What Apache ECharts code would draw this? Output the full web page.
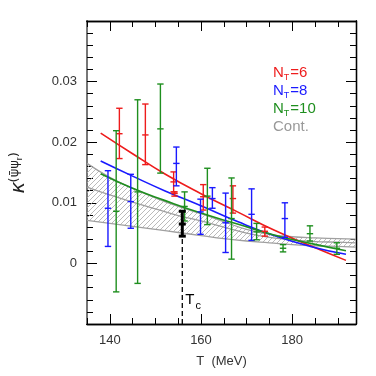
<!DOCTYPE html>
<html>
<head>
<meta charset="utf-8">
<script src="https://cdn.jsdelivr.net/npm/echarts@6/dist/echarts.min.js"></script>
<style>
html, body { margin: 0; padding: 0; background: #fff; }
#chart { width: 376px; height: 376px; }
</style>
</head>
<body>
<div id="chart"></div>
<script>
// axis range and ticks
const xMin = 135, xMax = 194;
const yMin = -0.01, yMax = 0.04;
const xMajorTicks = [140, 160, 180];
const xLabels = [140, 160, 180];
const yMajorTicks = [-0.01, 0, 0.01, 0.02, 0.03, 0.04];
const yLabels = [0, 0.01, 0.02, 0.03];

// N_T = 6 (red)
const n6T   = [142.1, 147.8, 154.0, 154.2, 160.5, 167.0, 174.0];
const n6Hi  = [0.0256, 0.0263, 0.0151, 0.0118, 0.0130, 0.0128, 0.0060];
const n6Mid = [0.0214, 0.0212, 0.01345, 0.01154, 0.0110, 0.0107, 0.0053];
const n6Lo  = [0.0173, 0.0163, 0.0118, 0.0111, 0.0088, 0.0083, 0.0045];

// N_T = 8 (blue)
const n8T   = [139.6, 144.6, 154.6, 159.9, 162.5, 165.4, 171.1, 178.4];
const n8Hi  = [0.0153, 0.0147, 0.0192, 0.0106, 0.0125, 0.0116, 0.0123, 0.0100];
const n8Mid = [0.0091, 0.0102, 0.0165, 0.0085, 0.0107, 0.0067, 0.0081, 0.0074];
const n8Lo  = [0.0028, 0.0058, 0.0128, 0.0048, 0.0091, 0.0018, 0.0038, 0.0043];

// N_T = 10 (green)
const n10T   = [141.4, 146.1, 151.1, 156.4, 161.4, 166.7, 172.2, 178.0, 183.9, 189.8];
const n10Hi  = [0.0219, 0.0270, 0.0296, 0.0118, 0.0157, 0.0141, 0.0066, 0.0031, 0.0062, 0.0034];
const n10Mid = [0.0086, 0.0118, 0.0222, 0.0094, 0.0111, 0.0074, 0.0052, 0.0025, 0.0049, 0.0025];
const n10Lo  = [-0.0047, -0.0033, 0.0149, 0.0070, 0.0064, 0.0007, 0.0039, 0.0019, 0.0037, 0.0015];

// fit curves
const fitT   = [138, 145, 152, 160, 168, 176, 184, 191.8];
const fit6   = [0.0215, 0.0181, 0.0148, 0.0115, 0.0085, 0.0055, 0.0029, 0.0005];
const fit8   = [0.0169, 0.0144, 0.0120, 0.0095, 0.0069, 0.0046, 0.0028, 0.0015];
const fit10  = [0.0148, 0.0124, 0.0104, 0.0083, 0.0065, 0.0047, 0.0033, 0.0021];

// continuum band
const contT     = [135, 140, 145, 150, 155, 160, 165, 170, 175, 180, 185, 190, 194];
const contUpper = [0.0165, 0.0142, 0.0124, 0.0108, 0.0094, 0.0082, 0.0069, 0.0056, 0.0048, 0.0044, 0.0042, 0.0041, 0.0040];
const contMid   = [0.0126, 0.0113, 0.0101, 0.0090, 0.0079, 0.0070, 0.0060, 0.0050, 0.0043, 0.0039, 0.0036, 0.0035, 0.0034];
const contLower = [0.0071, 0.0066, 0.0061, 0.0056, 0.0051, 0.0046, 0.0041, 0.0037, 0.0034, 0.0031, 0.0029, 0.0028, 0.0027];

// T_c point
const tcT = 155.9, tcHi = 0.0086, tcMid = 0.0065, tcLo = 0.0045;

const RED = '#ee1c1c', BLUE = '#1a1aff', GREEN = '#1f8f1f', GRAY = '#a0a0a0';
const FONT = 'Liberation Sans';

const xMinor = [];
for (let v = 135; v <= 190; v += 5) xMinor.push(v);
const yMinor = [];
for (let i = -5; i <= 20; i++) yMinor.push(+(i * 0.002).toFixed(3));

// hatch pattern for the continuum band
const hatch = document.createElement('canvas');
hatch.width = 5; hatch.height = 5;
const hc = hatch.getContext('2d');
hc.strokeStyle = '#aaaaaa';
hc.lineWidth = 0.8;
hc.beginPath();
hc.moveTo(0, 5); hc.lineTo(5, 0);
hc.moveTo(-1, 1); hc.lineTo(1, -1);
hc.moveTo(4, 6); hc.lineTo(6, 4);
hc.stroke();

const zip = (t, lo, mid, hi) => t.map((v, i) => [v, lo[i], mid[i], hi[i]]);
const pts = (t, v) => t.map((x, i) => [x, v[i]]);

function errRender(lw, cap) {
  return function (params, api) {
    const x = api.value(0);
    const lo = api.coord([x, api.value(1)]);
    const md = api.coord([x, api.value(2)]);
    const hi = api.coord([x, api.value(3)]);
    const st = { stroke: api.visual('color'), lineWidth: lw };
    const c = (p) => ({ type: 'line', shape: { x1: p[0] - cap, y1: p[1], x2: p[0] + cap, y2: p[1] }, style: st });
    return {
      type: 'group',
      children: [
        { type: 'line', shape: { x1: lo[0], y1: lo[1], x2: hi[0], y2: hi[1] }, style: st },
        c(lo), c(md), c(hi)
      ]
    };
  };
}

function bandRender(params, api) {
  if (params.dataIndex !== 0) return null;
  const n = params.dataInsideLength;
  const top = [], bot = [];
  for (let i = 0; i < n; i++) {
    top.push(api.coord([api.value(0, i), api.value(2, i)]));
    bot.unshift(api.coord([api.value(0, i), api.value(1, i)]));
  }
  return { type: 'polygon', shape: { points: top.concat(bot) }, style: { fill: { image: hatch, repeat: 'repeat' }, stroke: null } };
}

function xAx(pos, ticks, len, labels) {
  return {
    type: 'value', position: pos, min: xMin, max: xMax,
    axisLine: { show: true, onZero: false, lineStyle: { color: '#000', width: 1.3 } },
    axisTick: { show: true, inside: true, length: len, customValues: ticks, lineStyle: { color: '#000', width: 1 } },
    axisLabel: labels ? { show: true, customValues: labels, color: '#333', fontSize: 13, fontFamily: FONT, margin: 10 } : { show: false },
    splitLine: { show: false }
  };
}
function yAx(pos, ticks, len, labels, lineColor, lineWidth) {
  return {
    type: 'value', position: pos, min: yMin, max: yMax,
    axisLine: { show: true, onZero: false, lineStyle: { color: lineColor, width: lineWidth } },
    axisTick: { show: true, inside: true, length: len, customValues: ticks, lineStyle: { color: '#000', width: 1 } },
    axisLabel: labels ? {
      show: true, customValues: labels, color: '#333', fontSize: 13, fontFamily: FONT, margin: 10,
      formatter: v => (v === 0 ? '0' : v.toFixed(2))
    } : { show: false },
    splitLine: { show: false }
  };
}

const xMain = xAx('bottom', xMajorTicks, 10, xLabels);
xMain.name = 'T  (MeV)';
xMain.nameLocation = 'middle';
xMain.nameGap = 31;
xMain.nameTextStyle = { color: '#333', fontSize: 13, fontFamily: FONT };

const yMain = yAx('left', yMajorTicks, 10, yLabels, '#777', 2);
yMain.name = '{k|κ}{p|(ψ\u0304ψ}{r|r}{p|)}';
yMain.nameLocation = 'middle';
yMain.nameGap = 58;
yMain.nameTextStyle = {
  color: '#222', fontFamily: FONT,
  rich: {
    k: { fontSize: 21, fontStyle: 'italic', lineHeight: 21, verticalAlign: 'top', fontFamily: FONT, color: '#222' },
    p: { fontSize: 13, lineHeight: 13, verticalAlign: 'top', fontFamily: 'DejaVu Sans', color: '#222' },
    r: { fontSize: 9, lineHeight: 9, verticalAlign: 'top', padding: [7, 0, 0, 0], fontFamily: FONT, color: '#222' }
  }
};

function legendRich(color) {
  return {
    n: { fontSize: 15, lineHeight: 17, verticalAlign: 'top', color: color, fontFamily: FONT },
    s: { fontSize: 9, lineHeight: 9, verticalAlign: 'top', padding: [8, 1, 0, 0], color: color, fontFamily: FONT }
  };
}

const chart = echarts.init(document.getElementById('chart'));
chart.setOption({
  animation: false,
  backgroundColor: '#fff',
  grid: { left: 81, right: 20, top: 21, bottom: 52, containLabel: false },
  legend: {
    orient: 'vertical', left: 263, top: 60, itemGap: 1, itemWidth: 0, itemHeight: 0, icon: 'none',
    selectedMode: false,
    formatter: name => (name === 'Cont.' ? '{n|Cont.}' : '{n|N}{s|T}{n|=' + name.split('=')[1] + '}'),
    data: [
      { name: 'N_T=6', textStyle: { color: RED, rich: legendRich(RED) } },
      { name: 'N_T=8', textStyle: { color: BLUE, rich: legendRich(BLUE) } },
      { name: 'N_T=10', textStyle: { color: GREEN, rich: legendRich(GREEN) } },
      { name: 'Cont.', textStyle: { color: '#999', rich: legendRich('#999') } }
    ]
  },
  xAxis: [
    xMain,
    xAx('bottom', xMinor, 6, null),
    xAx('top', xMajorTicks, 10, null),
    xAx('top', xMinor, 6, null)
  ],
  yAxis: [
    yMain,
    yAx('left', yMinor, 6, null, '#777', 2),
    yAx('right', yMajorTicks, 10, null, '#000', 1.3),
    yAx('right', yMinor, 6, null, '#000', 1.3)
  ],
  series: [
    {
      name: 'Cont.', type: 'custom', renderItem: bandRender, z: 1,
      data: contT.map((t, i) => [t, contLower[i], contUpper[i]]),
      encode: { x: 0, y: [1, 2] }, silent: true
    },
    { name: 'Cont.', type: 'line', data: pts(contT, contUpper), smooth: true, showSymbol: false, lineStyle: { color: GRAY, width: 1.3 }, itemStyle: { color: GRAY }, z: 2 },
    { name: 'Cont.', type: 'line', data: pts(contT, contMid), smooth: true, showSymbol: false, lineStyle: { color: GRAY, width: 1.3 }, itemStyle: { color: GRAY }, z: 2 },
    { name: 'Cont.', type: 'line', data: pts(contT, contLower), smooth: true, showSymbol: false, lineStyle: { color: GRAY, width: 1.3 }, itemStyle: { color: GRAY }, z: 2 },

    { name: 'N_T=6', type: 'line', data: pts(fitT, fit6), smooth: true, showSymbol: false, lineStyle: { color: RED, width: 1.6 }, itemStyle: { color: RED }, z: 3 },
    { name: 'N_T=8', type: 'line', data: pts(fitT, fit8), smooth: true, showSymbol: false, lineStyle: { color: BLUE, width: 1.6 }, itemStyle: { color: BLUE }, z: 3 },
    { name: 'N_T=10', type: 'line', data: pts(fitT, fit10), smooth: true, showSymbol: false, lineStyle: { color: GREEN, width: 1.6 }, itemStyle: { color: GREEN }, z: 3 },

    { name: 'N_T=6', type: 'custom', renderItem: errRender(1.4, 3.2), data: zip(n6T, n6Lo, n6Mid, n6Hi), encode: { x: 0, y: [1, 2, 3] }, itemStyle: { color: RED }, z: 4 },
    { name: 'N_T=8', type: 'custom', renderItem: errRender(1.4, 3.2), data: zip(n8T, n8Lo, n8Mid, n8Hi), encode: { x: 0, y: [1, 2, 3] }, itemStyle: { color: BLUE }, z: 4 },
    { name: 'N_T=10', type: 'custom', renderItem: errRender(1.4, 3.2), data: zip(n10T, n10Lo, n10Mid, n10Hi), encode: { x: 0, y: [1, 2, 3] }, itemStyle: { color: GREEN }, z: 4 },

    { name: 'Tc', type: 'custom', renderItem: errRender(3, 3.5), data: [[tcT, tcLo, tcMid, tcHi]], encode: { x: 0, y: [1, 2, 3] }, itemStyle: { color: '#000' }, z: 5 },
    {
      name: 'Tc line', type: 'line', data: [[tcT, yMin], [tcT, tcLo]], showSymbol: true, symbolSize: 0,
      lineStyle: { color: '#000', width: 1.3, type: [5, 3] }, itemStyle: { color: '#000' }, z: 5,
      label: {
        show: true, position: [3, -32],
        formatter: p => (p.dataIndex === 0 ? '{t|T}{c|c}' : ''),
        rich: {
          t: { fontSize: 15, lineHeight: 16, verticalAlign: 'top', color: '#000', fontFamily: FONT },
          c: { fontSize: 11, lineHeight: 11, verticalAlign: 'top', padding: [8, 0, 0, 1], color: '#000', fontFamily: FONT }
        }
      }
    }
  ]
});
</script>
</body>
</html>
